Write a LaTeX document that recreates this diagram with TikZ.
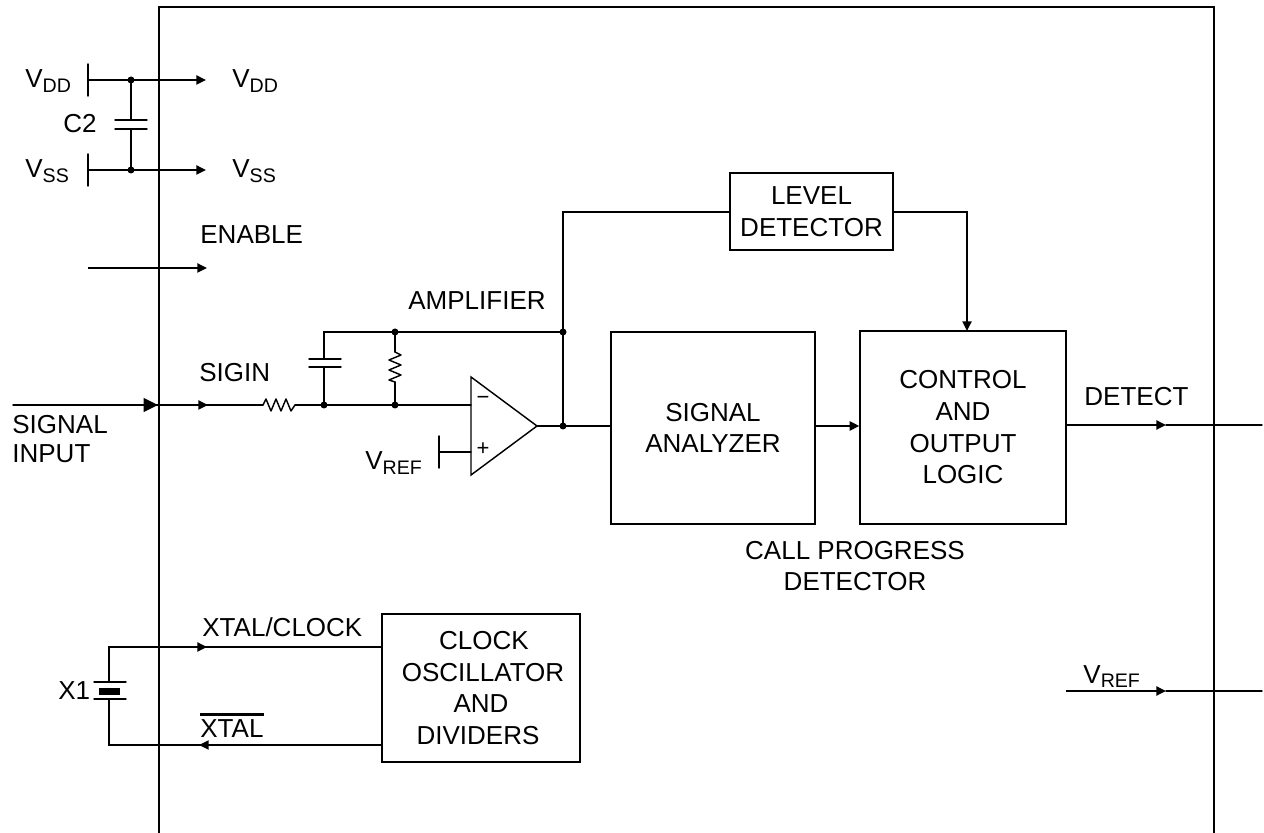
\documentclass[tikz,border=0pt]{standalone}
\usepackage{fontspec}
\setmainfont{Liberation Sans}
\usetikzlibrary{arrows.meta}
\newcommand{\subt}[2]{#1{\fontsize{9.8}{10}\selectfont\raisebox{-0.45ex}{#2}}}
\tikzset{
  x=0.5pt,y=-0.5pt,
  wire/.style={line width=0.72pt,line cap=round,line join=miter},
  frameline/.style={line width=0.8pt},
  tip/.style={-{Triangle[length=4.8pt,width=4.6pt]},line width=0.72pt},
  bigtip/.style={-{Triangle[length=7.2pt,width=7pt]},line width=0.72pt},
  dot/.style={circle,fill=black,inner sep=0pt,minimum size=3.5pt},
  blockbox/.style={draw,line width=0.72pt,align=center,inner sep=0pt,font=\fontsize{13}{15.85}\selectfont},
  lbl/.style={anchor=base west,inner sep=0pt,font=\fontsize{13}{14.5}\selectfont},
  clbl/.style={inner sep=0pt,align=center,font=\fontsize{13}{15.5}\selectfont},
}
\begin{document}
\begin{tikzpicture}
\useasboundingbox (0,0) rectangle (1264,833);
% package frame
\coordinate (fbl) at (159,833);
\coordinate (ftl) at (159,7);
\coordinate (ftr) at (1214,7);
\coordinate (fbr) at (1214,833);
\draw[frameline] (fbl) -- (ftl) -- (ftr) -- (fbr);
% blocks
\node[blockbox,minimum width=81.5pt,minimum height=38.5pt] (level) at (811.5,211.5) {LEVEL\\DETECTOR};
\node[blockbox,minimum width=102pt,minimum height=96pt] (analyzer) at (713,428) {SIGNAL\\ANALYZER};
\node[blockbox,minimum width=103pt,minimum height=96.5pt] (control) at (963,427.5) {CONTROL\\AND\hspace*{7pt}\\OUTPUT\hspace*{3pt}\\LOGIC};
\node[blockbox,minimum width=99pt,minimum height=74pt] (clock) at (481,688) {\hspace*{3pt}CLOCK\\\hspace*{2pt}OSCILLATOR\\AND\\DIVIDERS\hspace*{3pt}};
% supply
\coordinate (ddbarT) at (88,64); \coordinate (ddbarB) at (88,96);
\coordinate (ssbarT) at (88,154); \coordinate (ssbarB) at (88,186);
\coordinate (ddL) at (88,80); \coordinate (ddJ) at (131,80); \coordinate (ddE) at (206,80);
\coordinate (ssL) at (88,170); \coordinate (ssJ) at (131,170); \coordinate (ssE) at (206,170);
\coordinate (c2a) at (131,120); \coordinate (c2b) at (131,129);
\draw[wire] (ddbarT) -- (ddbarB);
\draw[wire] (ssbarT) -- (ssbarB);
\draw[tip] (ddL) -- (ddE);
\draw[tip] (ssL) -- (ssE);
\draw[wire] (ddJ) -- (c2a) (c2b) -- (ssJ);
\draw[wire] (115,120) -- (147,120) (115,129) -- (147,129);
\node[dot] (ddDot) at (ddJ) {};
\node[dot] (ssDot) at (ssJ) {};
\node[lbl] (tdd1) at (25,88) {\subt{V}{DD}};
\node[lbl] (tdd2) at (232,88) {\subt{V}{DD}};
\node[lbl] (tss1) at (25,178) {\subt{V}{SS}};
\node[lbl] (tss2) at (232,178) {\subt{V}{SS}};
\node[lbl] (tc2) at (63,133) {C2};
% enable
\coordinate (enL) at (88,268); \coordinate (enR) at (207,268);
\draw[tip] (enL) -- (enR);
\node[lbl] (ten) at (200,244) {ENABLE};
% amplifier
\coordinate (oa) at (471,377); \coordinate (ob) at (471,475); \coordinate (oc) at (537,426);
\draw[wire,line join=miter] (oa) -- (ob) -- (oc) -- cycle;
\node[inner sep=0pt,font=\fontsize{11}{11}\selectfont] (minus) at (483,400) {\symbol{"2212}};
\node[inner sep=0pt,font=\fontsize{11}{11}\selectfont] (plus) at (483,449) {+};
\coordinate (sigS) at (13,405);
\coordinate (sigBig) at (158,405);
\coordinate (sigSmall) at (208,405);
\coordinate (r1a) at (263,405); \coordinate (r1b) at (295,405);
\coordinate (capJ) at (324,405); \coordinate (resJ) at (395,405);
\coordinate (oaIn) at (471,405);
\draw[wire] (sigS) -- (r1a);
\draw[bigtip] (sigS) -- (sigBig);
\draw[tip] (sigBig) -- (sigSmall);
\draw[wire,line join=round] (r1a) -- (266,399) -- (271,411) -- (276,399) -- (281,411) -- (286,399) -- (291,411) -- (r1b);
\draw[wire] (r1b) -- (capJ) -- (resJ) -- (oaIn);
\coordinate (capT) at (324,332); \coordinate (resT) at (395,332); \coordinate (fbJ) at (563,332);
\coordinate (r2a) at (395,352); \coordinate (r2b) at (395,382);
\coordinate (c1a) at (324,359); \coordinate (c1b) at (324,367);
\draw[wire] (c1a) -- (capT) -- (fbJ);
\draw[wire] (c1b) -- (capJ);
\draw[wire] (309,359) -- (341,359) (309,367) -- (341,367);
\draw[wire] (resT) -- (r2a);
\draw[wire,line join=round] (r2a) -- (401,355) -- (389,360) -- (401,365) -- (389,370) -- (401,375) -- (389,380) -- (r2b);
\draw[wire] (r2b) -- (resJ);
\node[dot] (d1) at (capJ) {};
\node[dot] (d2) at (resJ) {};
\node[dot] (d3) at (resT) {};
\node[lbl] (tsigin) at (199,382) {SIGIN};
\node[lbl] (tamp) at (408,310) {AMPLIFIER};
\node[lbl,anchor=north west,align=left] (tinput) at (12,415) {SIGNAL\\INPUT};
% vref stub
\coordinate (vrT) at (439,436); \coordinate (vrB) at (439,468);
\coordinate (vrL) at (439,452); \coordinate (vrR) at (471,452);
\draw[wire] (vrT) -- (vrB);
\draw[wire] (vrL) -- (vrR);
\node[lbl] (tvref1) at (365,470) {\subt{V}{REF}};
% signal path
\coordinate (outJ) at (563,426);
\draw[wire] (oc) -- (outJ) -- (outJ -| analyzer.west);
\draw[wire] (outJ) -- (fbJ) -- (563,212) -- (level.west |- 0,212);
\node[dot] (d4) at (outJ) {};
\node[dot] (d5) at (fbJ) {};
\draw[tip] (analyzer.east |- 0,426) -- (control.west |- 0,426);
\draw[tip] (level.east |- 0,212) -- (967,212) -- (967,331);
\coordinate (detT) at (1166,425); \coordinate (detE) at (1262,425);
\draw[tip] (control.east |- detT) -- (detT);
\draw[wire] (detT) -- (detE);
\node[lbl] (tdet) at (1084,406) {DETECT};
\node[clbl] (tcall) at (855,566) {CALL PROGRESS\\DETECTOR};
% vref output
\coordinate (vr2L) at (1066,691); \coordinate (vr2M) at (1166,691); \coordinate (vr2R) at (1262,691);
\draw[tip] (vr2L) -- (vr2M);
\draw[wire] (vr2M) -- (vr2R);
\node[lbl] (tvref2) at (1083,683) {\subt{V}{REF}};
% crystal
\coordinate (xT) at (109,647); \coordinate (xB) at (109,745);
\coordinate (xa) at (109,682); \coordinate (xb) at (109,699);
\coordinate (xtalArr) at (207,647); \coordinate (xbarArr) at (199,745);
\draw[wire] (xa) -- (xT) -- (xT -| clock.west);
\draw[tip] (xT) -- (xtalArr);
\draw[wire] (xb) -- (xB) -- (xB -| clock.west);
\draw[tip] (clock.west |- xbarArr) -- (xbarArr);
\draw[wire] (94,682) -- (126,682) (94,699) -- (126,699);
\fill (99,688) rectangle (120,695);
\node[lbl] (tx1) at (58,699) {X1};
\node[lbl] (txc) at (202,637) {XTAL/CLOCK};
\node[lbl] (txb) at (200,738) {XTAL};
\draw[line width=1.1pt] (txb.north west |- 0,714.5) -- (txb.north east |- 0,714.5);
\end{tikzpicture}
\end{document}
